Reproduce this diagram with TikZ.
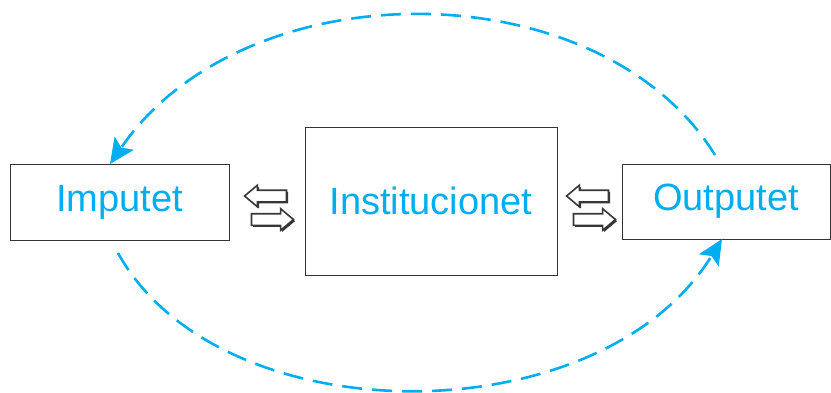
\documentclass[tikz,border=0pt]{standalone}
\usepackage{fontspec}
\setmainfont{Liberation Sans}
\usetikzlibrary{arrows.meta,shapes.arrows,shadows}

\definecolor{flowblue}{RGB}{0,174,239}
\definecolor{arrowgray}{RGB}{55,55,55}

\tikzset{
	every picture/.style={line width=1pt},
	unit/.style={draw=black!80, line width=0.8pt, fill=white, text=flowblue,
		font=\fontsize{38}{40}\selectfont, inner sep=0pt},
	swap arrow/.style={single arrow, draw=arrowgray, line width=1.6pt, fill=white,
		minimum height=42pt, inner sep=5pt, single arrow head extend=5pt,
		single arrow tip angle=80,
		drop shadow={shadow xshift=1.6pt, shadow yshift=-1.6pt,
		fill=arrowgray, opacity=1}},
	loop/.style={draw=flowblue, line width=2.6pt, dash pattern=on 20pt off 10pt,
		-{Stealth[length=25pt, width=23pt, inset=5pt]}}}

\begin{document}
\begin{tikzpicture}[x=1pt,y=-1pt]
	\useasboundingbox (0,0) rectangle (831,392);

	% the three units
	\node [unit, minimum width=219pt, minimum height=76pt] (imp) at (119.5,202) {Imputet};
	\node [unit, minimum width=252pt, minimum height=148pt] (inst) at (431,201) {Institucionet};
	\node [unit, minimum width=208pt, minimum height=75pt] (out) at (726,201.5) {Outputet};

	% exchange arrows between the units
	\node [swap arrow, shape border rotate=180] (ilft) at (269,196) {};
	\node [swap arrow] (irgt) at (269,219.5) {};
	\node [swap arrow, shape border rotate=180] (olft) at (591,196) {};
	\node [swap arrow] (orgt) at (591,219.5) {};

	% feedback loops
	\coordinate (outtop) at (715,155);
	\coordinate (imptop) at (110,164);
	\coordinate (impbot) at (118,253);
	\coordinate (outbot) at (722,239);
	\draw [loop] (outtop) .. controls (600,-31) and (245,-33) .. (imptop);
	\draw [loop] (impbot) .. controls (220,437) and (600,437) .. (outbot);

\end{tikzpicture}
\end{document}
